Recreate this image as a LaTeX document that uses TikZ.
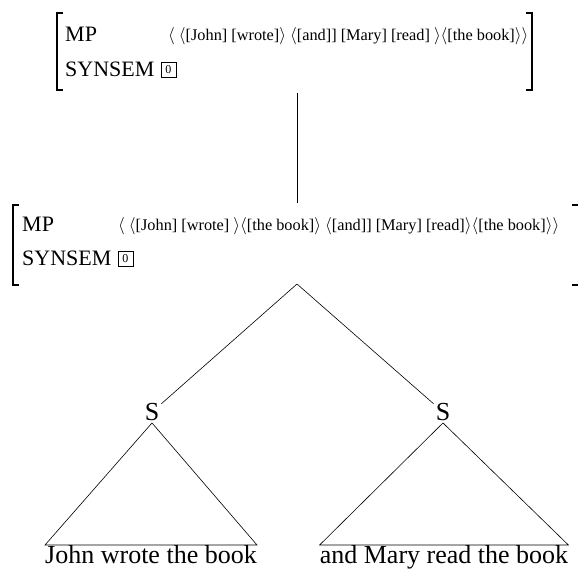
\documentclass[tikz,border=0pt]{standalone}
\usepackage{fontspec}
\setmainfont{Liberation Serif}
\usetikzlibrary{positioning}

\newcommand{\la}{$\langle$}
\newcommand{\ra}{$\rangle$}

\tikzset{
  feat/.style={anchor=base west, inner sep=0pt, font=\fontsize{22}{24}\selectfont},
  val/.style={anchor=base west, inner sep=0pt, font=\fontsize{16.3}{18}\selectfont},
  tag/.style={draw, line width=0.6pt, inner sep=1pt, minimum size=15pt, font=\fontsize{12}{13}\selectfont},
  cat/.style={inner sep=2pt, font=\fontsize{26}{28}\selectfont},
  leaf/.style={anchor=north, inner sep=0pt, font=\fontsize{26}{28}\selectfont},
  brk/.style={line width=1.2pt},
  edge/.style={line width=0.6pt},
}

\begin{document}
\begin{tikzpicture}[x=1pt, y=-1pt]
  \useasboundingbox (0,0) rectangle (578,571);

  % upper AVM
  \coordinate (ul1) at (57,13);  \coordinate (ul2) at (57,90);
  \coordinate (ur1) at (532,13); \coordinate (ur2) at (532,90);
  \draw[brk] ([xshift=6]ul1) -- (ul1) -- (ul2) -- ([xshift=6]ul2);
  \draw[brk] ([xshift=-6]ur1) -- (ur1) -- (ur2) -- ([xshift=-6]ur2);
  \node[feat] (mp1) at (65,41) {MP};
  \node[feat] (ss1) at (65,76) {SYNSEM};
  \node[tag, right=6pt of ss1.east, anchor=west, yshift=-1pt] (t1) {0};
  \node[val] (v1) at (168,40)
    {\la\ \la[John] [wrote]\ra\ \la[and]] [Mary] [read] \ra\la[the book]\ra\ra};

  % lower AVM
  \coordinate (ll1) at (13,205);  \coordinate (ll2) at (13,285);
  \coordinate (lr1) at (578.5,205); \coordinate (lr2) at (578.5,285);
  \draw[brk] ([xshift=6]ll1) -- (ll1) -- (ll2) -- ([xshift=6]ll2);
  \draw[brk] ([xshift=-7]lr1) -- (lr1) -- (lr2) -- ([xshift=-7]lr2);
  \node[feat] (mp2) at (22,231) {MP};
  \node[feat] (ss2) at (22,265) {SYNSEM};
  \node[tag, right=6pt of ss2.east, anchor=west, yshift=-1pt] (t2) {0};
  \node[val] (v2) at (118,230)
    {\la\ \la[John] [wrote] \ra\la[the book]\ra\ \la[and]] [Mary] [read]\ra\la[the book]\ra\ra};

  % link between the two
  \coordinate (up) at (297,93);
  \coordinate (down) at (297,203);
  \draw[edge] (up) -- (down);

  % tree
  \coordinate (apex) at (297,284);
  \node[cat] (sl) at (152,412) {S};
  \node[cat] (sr) at (443,412) {S};
  \draw[edge] (apex) -- (sl);
  \draw[edge] (apex) -- (sr);

  \node[leaf] (jw) at (151,545) {John wrote the book};
  \node[leaf] (mr) at (444,545) {and Mary read the book};
  \draw[edge] (sl.south) -- (jw.north west) -- (jw.north east) -- cycle;
  \draw[edge] (sr.south) -- (mr.north west) -- (mr.north east) -- cycle;
\end{tikzpicture}
\end{document}
